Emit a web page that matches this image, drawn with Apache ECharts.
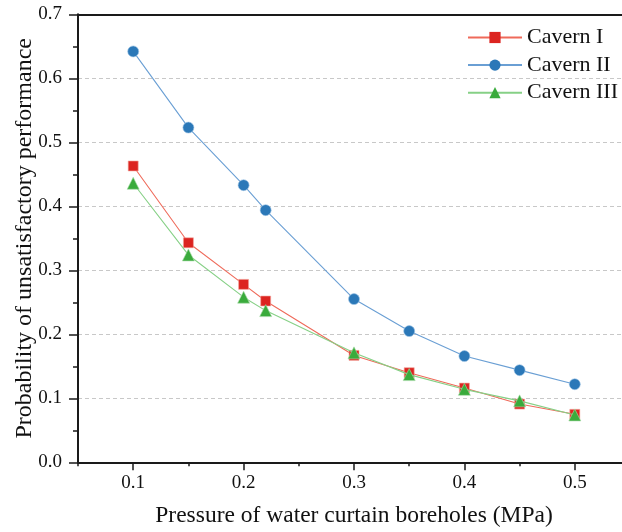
<!DOCTYPE html>
<html>
<head>
<meta charset="utf-8">
<script src="https://cdn.jsdelivr.net/npm/echarts@6/dist/echarts.min.js"></script>
<style>
html,body{margin:0;padding:0;background:#fff;}
#chart{width:622px;height:532px;}
</style>
</head>
<body>
<div id="chart"></div>
<script>
var pressures = [0.1, 0.15, 0.2, 0.22, 0.3, 0.35, 0.4, 0.45, 0.5];
var cavernI   = [0.463, 0.343, 0.278, 0.252, 0.167, 0.140, 0.116, 0.091, 0.075];
var cavernII  = [0.642, 0.523, 0.433, 0.394, 0.255, 0.205, 0.166, 0.144, 0.122];
var cavernIII = [0.436, 0.324, 0.258, 0.237, 0.171, 0.137, 0.114, 0.096, 0.074];
var seriesNames = ['Cavern I', 'Cavern II', 'Cavern III'];
var xMajorTicks = [0.1, 0.2, 0.3, 0.4, 0.5];
var xMinorTicks = [0.05, 0.15, 0.25, 0.35, 0.45];

function pairs(ys) { return pressures.map(function (x, i) { return [x, ys[i]]; }); }

var FONT = '"Liberation Serif", "Times New Roman", serif';
var AX = '#1a1a1a';

var chart = echarts.init(document.getElementById('chart'), null, {renderer: 'canvas'});
chart.setOption({
  backgroundColor: '#fff',
  animation: false,
  textStyle: {fontFamily: FONT},
  grid: {left: 78, width: 552, top: 14.3, height: 448, containLabel: false, outerBoundsMode: 'none'},
  legend: {
    orient: 'vertical',
    left: 467,
    top: 26.5,
    padding: 0,
    itemWidth: 54,
    itemHeight: 14,
    itemGap: 5.6,
    itemStyle: {borderWidth: 0},
    textStyle: {fontFamily: FONT, fontSize: 22, color: '#111', lineHeight: 22},
    data: seriesNames
  },
  xAxis: [{
    type: 'value',
    min: 0.05, max: 0.55,
    name: 'Pressure of water curtain boreholes (MPa)',
    nameLocation: 'middle',
    nameGap: 42,
    nameTextStyle: {fontFamily: FONT, fontSize: 23.5, color: '#111'},
    axisLine: {show: true, onZero: false, lineStyle: {color: AX, width: 2}},
    axisTick: {show: true, length: 8, customValues: xMajorTicks, lineStyle: {color: AX, width: 1.5}},
    axisLabel: {customValues: xMajorTicks, fontFamily: FONT, fontSize: 19, color: '#111', margin: 11,
      formatter: function (v) { return v.toFixed(1); }},
    splitLine: {show: false}
  }, {
    type: 'value',
    min: 0.05, max: 0.55,
    position: 'bottom',
    axisLine: {show: false, onZero: false},
    axisTick: {show: true, length: 4, customValues: xMinorTicks, lineStyle: {color: AX, width: 1.5}},
    axisLabel: {show: false},
    splitLine: {show: false}
  }, {
    type: 'value',
    min: 0.05, max: 0.55,
    position: 'top',
    axisLine: {show: true, onZero: false, lineStyle: {color: AX, width: 2}},
    axisTick: {show: false},
    axisLabel: {show: false},
    splitLine: {show: false}
  }],
  yAxis: {
    type: 'value',
    min: 0, max: 0.7, interval: 0.1,
    name: 'Probability of unsatisfactory performance',
    nameLocation: 'middle',
    nameGap: 41,
    nameMoveOverlap: false,
    nameTextStyle: {fontFamily: FONT, fontSize: 24, color: '#111'},
    axisLine: {show: true, onZero: false, lineStyle: {color: AX, width: 2}},
    axisTick: {show: true, length: 9, lineStyle: {color: AX, width: 1.5}},
    minorTick: {show: true, splitNumber: 2, length: 5, lineStyle: {color: AX, width: 1.5}},
    axisLabel: {fontFamily: FONT, fontSize: 19, color: '#111', margin: 16,
      formatter: function (v) { return v.toFixed(1); }},
    splitLine: {show: true, lineStyle: {color: '#c8c8c8', width: 1, type: [4, 3]}},
    minorSplitLine: {show: false}
  },
  series: [{
    name: seriesNames[0], type: 'line', xAxisIndex: 0,
    data: pairs(cavernI),
    symbol: 'rect', symbolSize: 10,
    itemStyle: {color: '#dc2420', borderColor: '#f4a8a0', borderWidth: 0.6},
    lineStyle: {color: '#ef6a5a', width: 1.1},
    z: 3
  }, {
    name: seriesNames[1], type: 'line', xAxisIndex: 0,
    data: pairs(cavernII),
    symbol: 'circle', symbolSize: 11,
    itemStyle: {color: '#2b78b8', borderColor: '#9cc2e4', borderWidth: 0.6},
    lineStyle: {color: '#6a9fd4', width: 1.1},
    z: 2
  }, {
    name: seriesNames[2], type: 'line', xAxisIndex: 0,
    data: pairs(cavernIII),
    symbol: 'triangle', symbolSize: 12,
    itemStyle: {color: '#3aab3c', borderColor: '#a8dca8', borderWidth: 0.6},
    lineStyle: {color: '#86d086', width: 1.1},
    z: 4
  }]
});
</script>
</body>
</html>
